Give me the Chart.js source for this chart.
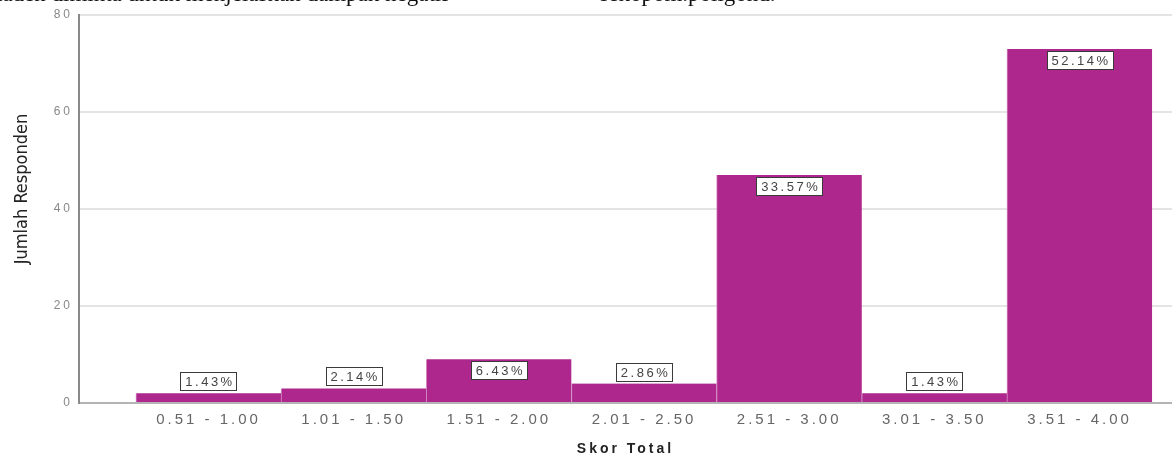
<!DOCTYPE html>
<html>
<head>
<meta charset="utf-8">
<script src="https://cdn.jsdelivr.net/npm/chart.js@4/dist/chart.umd.min.js"></script>
<style>
  body { margin: 0; background: #fff; }
  #wrap { position: relative; width: 1172px; height: 456px; overflow: hidden; }
  #page-text { position: absolute; top: -19px; left: 0; width: 1172px; font: 23px "Liberation Serif", "Times New Roman", serif; color: #111; white-space: nowrap; }
  #page-text span { position: absolute; }
  canvas { position: absolute; left: 0; top: 0; }
</style>
</head>
<body>
<div id="wrap">
  <canvas id="chart" width="1172" height="456"></canvas>
  <div id="page-text"><span style="left:-4px">taden diminta untuk menjelaskan dampak negatif</span><span style="left:598px">eekopom.poligond.</span></div>
</div>
<script>
// Skor Total categories and counts (n = 140)
const categories = ['0.51 - 1.00', '1.01 - 1.50', '1.51 - 2.00', '2.01 - 2.50', '2.51 - 3.00', '3.01 - 3.50', '3.51 - 4.00']
const counts = [2, 3, 9, 4, 47, 2, 73]
const percents = ['1.43%', '2.14%', '6.43%', '2.86%', '33.57%', '1.43%', '52.14%']
const yTicks = [0, 20, 40, 60, 80]

const xTitle = 'Skor Total'
const yTitle = 'Jumlah Responden'

// SPSS style spaced text + boxed value labels
const spssLabels = {
    id: 'spssLabels',
    beforeDraw(chart) {
        chart.ctx.letterSpacing = '3px'
    },
    afterDatasetsDraw(chart) {
        const ctx = chart.ctx
        const meta = chart.getDatasetMeta(0)
        ctx.save()
        ctx.font = '13px "Liberation Sans", Arial, sans-serif'
        ctx.letterSpacing = '2.5px'
        meta.data.forEach((bar, i) => {
            const text = percents[i]
            const w = Math.round(ctx.measureText(text).width + 7)
            const h = 18
            const top = Math.round(counts[i] >= 5 ? bar.y + 2 : bar.y - h - 3)
            const left = Math.round(bar.x - w / 2)
            ctx.fillStyle = '#fff'
            ctx.fillRect(left, top, w, h)
            ctx.strokeStyle = '#3a3a3a'
            ctx.lineWidth = 1
            ctx.strokeRect(left + 0.5, top + 0.5, w, h)
            ctx.fillStyle = '#444'
            ctx.textAlign = 'center'
            ctx.textBaseline = 'middle'
            ctx.fillText(text, bar.x + 1.5, top + h / 2 + 1)
        })
        ctx.restore()
    },
    afterDraw(chart) {
        const ctx = chart.ctx
        ctx.save()
        ctx.letterSpacing = '0px'
        ctx.font = '18px "Liberation Sans Narrow", "DejaVu Sans Condensed", sans-serif'
        ctx.fillStyle = '#222'
        ctx.translate(22, 189)
        ctx.rotate(-Math.PI / 2)
        ctx.textAlign = 'center'
        ctx.textBaseline = 'middle'
        ctx.fillText(yTitle, 0, 0)
        ctx.restore()
        ctx.letterSpacing = '0px'
    }
}

const chart = new Chart(document.getElementById('chart').getContext('2d'), {
    type: 'bar',
    data: {
        datasets: [{
            label: 'Jumlah Responden',
            data: counts.map((v, i) => ({ x: i, y: v })),
            backgroundColor: '#ae278c',
            borderColor: '#d58cc2',
            borderWidth: { left: 1, right: 0, top: 0, bottom: 0 },
            borderSkipped: false,
            categoryPercentage: 1,
            barPercentage: 1
        }]
    },
    options: {
        responsive: false,
        animation: false,
        devicePixelRatio: 1,
        layout: { padding: { top: 15, right: 0, bottom: 0, left: 0 } },
        plugins: {
            legend: { display: false },
            tooltip: { enabled: false }
        },
        scales: {
            x: {
                type: 'linear',
                offset: false,
                min: -0.892,
                max: 6.637,
                grid: { display: false, drawTicks: false, offset: false },
                border: { color: '#b4b4b4', width: 2 },
                ticks: {
                    stepSize: 1,
                    includeBounds: false,
                    autoSkip: false,
                    maxRotation: 0,
                    padding: 8,
                    color: '#666',
                    font: { family: '"Liberation Sans", Arial, sans-serif', size: 15 },
                    callback: v => categories[v] ?? ''
                },
                title: {
                    display: true,
                    text: xTitle,
                    color: '#222',
                    padding: { top: 0, bottom: 0 },
                    font: { family: '"Liberation Sans", Arial, sans-serif', size: 14, weight: 'bold', lineHeight: 1 }
                },
                afterFit(scale) {
                    scale.height = 53
                }
            },
            y: {
                min: 0,
                max: 80,
                grid: { color: '#e4e4e4', lineWidth: 2, drawTicks: false },
                border: { color: '#8a8a8a', width: 2 },
                ticks: {
                    stepSize: 20,
                    padding: 6,
                    color: '#888',
                    font: { family: '"Liberation Sans", Arial, sans-serif', size: 12 },
                    callback: v => yTicks.includes(v) ? String(v) : ''
                },
                afterFit(scale) {
                    scale.width = 79
                }
            }
        }
    },
    plugins: [spssLabels]
})
</script>
</body>
</html>
